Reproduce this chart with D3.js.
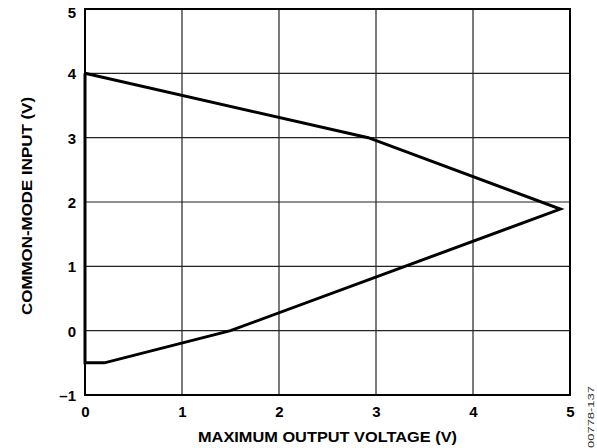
<!DOCTYPE html>
<html><head><meta charset="utf-8">
<script src="https://cdn.jsdelivr.net/npm/d3@7"></script>
<style>body{margin:0;background:#fff}svg{display:block}</style>
</head><body>
<script>
const xTicks = [0, 1, 2, 3, 4, 5];
const yTicks = [-1, 0, 1, 2, 3, 4, 5];
const yTickLabels = ["\u20131", "0", "1", "2", "3", "4", "5"];
const outV = [0, 2.92, 4.9, 1.5, 0.2, 0, 0];
const cmIn = [4, 3.0, 1.89, 0, -0.5, -0.5, 4];

const W = 597, H = 448;
const m = {l: 85, r: 27, t: 9, b: 53};
const svg = d3.select("body").append("svg").attr("width", W).attr("height", H);
const x = d3.scaleLinear().domain([0, 5]).range([m.l, W - m.r]);
const y = d3.scaleLinear().domain([-1, 5]).range([H - m.b, m.t]);
const font = "'Liberation Sans', Arial, sans-serif";

// grid
svg.append("g").selectAll("line.v").data(xTicks).join("line")
  .attr("x1", d => x(d)).attr("x2", d => x(d)).attr("y1", y(5)).attr("y2", y(-1))
  .attr("stroke", "#222").attr("stroke-width", 1.2);
svg.append("g").selectAll("line.h").data(yTicks).join("line")
  .attr("y1", d => y(d)).attr("y2", d => y(d)).attr("x1", x(0)).attr("x2", x(5))
  .attr("stroke", "#222").attr("stroke-width", 1.2);
// frame
svg.append("rect").attr("x", x(0)).attr("y", y(5)).attr("width", x(5) - x(0)).attr("height", y(-1) - y(5))
  .attr("fill", "none").attr("stroke", "#000").attr("stroke-width", 2);

// axes labels
const xAxis = d3.axisBottom(x).tickValues(xTicks).tickSize(0).tickPadding(11).tickFormat(d3.format("d"));
const gx = svg.append("g").attr("transform", `translate(0,${y(-1)})`).call(xAxis);
gx.select(".domain").remove();
gx.selectAll("text").attr("font-family", font).attr("font-weight", "bold").attr("font-size", 15).attr("fill", "#000");

const yAxis = d3.axisLeft(y).tickValues(yTicks).tickSize(0).tickPadding(9).tickFormat((d, i) => yTickLabels[i]);
const gy = svg.append("g").attr("transform", `translate(${x(0)},0)`).call(yAxis);
gy.select(".domain").remove();
gy.selectAll("text").attr("font-family", font).attr("font-weight", "bold").attr("font-size", 15).attr("fill", "#000")
  .attr("dy", (d) => d === 5 ? "0.55em" : "0.36em");

// data line
const pts = outV.map((v, i) => [v, cmIn[i]]);
svg.append("path").datum(pts)
  .attr("d", d3.line().x(d => x(d[0])).y(d => y(d[1])))
  .attr("fill", "none").attr("stroke", "#000").attr("stroke-width", 3).attr("stroke-linejoin", "miter");

// titles
svg.append("text").attr("x", (x(0) + x(5)) / 2).attr("y", 442).attr("text-anchor", "middle")
  .attr("font-family", font).attr("font-weight", "bold").attr("font-size", 15.5)
  .attr("textLength", 259).attr("lengthAdjust", "spacingAndGlyphs").text("MAXIMUM OUTPUT VOLTAGE (V)");
svg.append("text").attr("transform", `translate(32,206) rotate(-90)`).attr("text-anchor", "middle")
  .attr("font-family", font).attr("font-weight", "bold").attr("font-size", 15.5)
  .attr("textLength", 218).attr("lengthAdjust", "spacingAndGlyphs").text("COMMON-MODE INPUT (V)");
svg.append("text").attr("transform", `translate(594,448) rotate(-90)`).attr("text-anchor", "start")
  .attr("font-family", font).attr("font-size", 9).attr("fill", "#333")
  .attr("textLength", 62).attr("lengthAdjust", "spacingAndGlyphs").text("00778-137");
</script>
</body></html>
